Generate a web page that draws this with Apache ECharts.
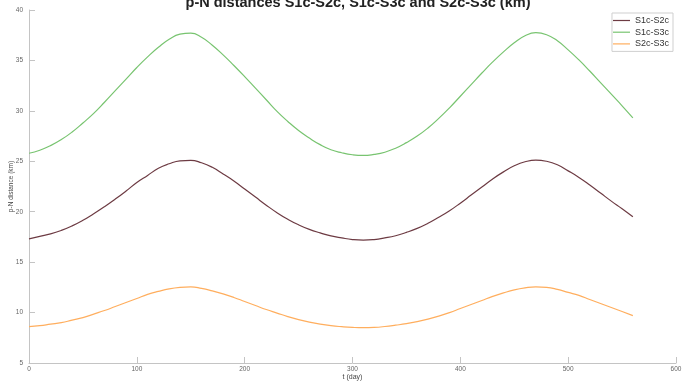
<!DOCTYPE html>
<html>
<head>
<meta charset="utf-8">
<script src="https://cdn.jsdelivr.net/npm/echarts@6/dist/echarts.min.js"></script>
<style>
  html, body { margin: 0; padding: 0; background: #fff; }
  #chart { width: 694px; height: 382px; }
</style>
</head>
<body>
<div id="chart"></div>
<script>
// Sample times (days), every 10 days
const tDays = [0, 10, 20, 30, 40, 50, 60, 70, 80, 90, 100, 110, 120, 130, 140, 150, 160, 170, 180, 190,
               200, 210, 220, 230, 240, 250, 260, 270, 280, 290, 300, 310, 320, 330, 340, 350, 360, 370, 380, 390,
               400, 410, 420, 430, 440, 450, 460, 470, 480, 490, 500, 510, 520, 530, 540, 550, 560];

// p-N distances (km)
const s1cS2c = [17.3, 17.55, 17.8, 18.15, 18.6, 19.15, 19.8, 20.5, 21.25, 22.05, 22.9, 23.6, 24.3, 24.75, 25.05, 25.1, 24.85, 24.4, 23.75, 23.05,
                22.25, 21.45, 20.65, 19.9, 19.25, 18.7, 18.25, 17.9, 17.6, 17.4, 17.24, 17.18, 17.24, 17.4, 17.62, 17.95, 18.35, 18.85, 19.45, 20.1,
                20.85, 21.65, 22.45, 23.25, 23.95, 24.55, 24.95, 25.12, 25.0, 24.65, 24.05, 23.4, 22.65, 21.85, 21.05, 20.3, 19.5];
const s1cS3c = [25.8, 26.1, 26.55, 27.15, 27.9, 28.8, 29.75, 30.85, 32.0, 33.15, 34.3, 35.35, 36.3, 37.1, 37.6, 37.7, 37.3, 36.5, 35.55, 34.5,
                33.4, 32.25, 31.1, 29.95, 28.95, 28.05, 27.3, 26.65, 26.15, 25.85, 25.65, 25.58, 25.68, 25.9, 26.3, 26.85, 27.5, 28.3, 29.25, 30.3,
                31.45, 32.6, 33.75, 34.85, 35.85, 36.75, 37.45, 37.75, 37.55, 36.95, 36.05, 35.05, 33.95, 32.8, 31.65, 30.5, 29.3];
const s2cS3c = [8.6, 8.7, 8.85, 9.0, 9.25, 9.5, 9.85, 10.2, 10.6, 11.0, 11.4, 11.8, 12.1, 12.35, 12.5, 12.55, 12.4, 12.15, 11.85, 11.5,
                11.1, 10.7, 10.3, 9.95, 9.6, 9.3, 9.05, 8.85, 8.7, 8.6, 8.53, 8.5, 8.53, 8.62, 8.75, 8.9, 9.1, 9.35, 9.65, 10.0,
                10.4, 10.8, 11.2, 11.6, 11.95, 12.25, 12.45, 12.55, 12.5, 12.3, 12.0, 11.7, 11.3, 10.9, 10.5, 10.1, 9.7];

const seriesNames = ['S1c-S2c', 'S1c-S3c', 'S2c-S3c'];
const seriesValues = [s1cS2c, s1cS3c, s2cS3c];
const seriesColors = ['#6d3b43', '#78c470', '#ffae5e'];

const xTicks = { min: 0, max: 600, interval: 100 };
const yTicks = { min: 5, max: 40, interval: 5 };

const font = 'Liberation Sans, Arial, sans-serif';
const axisGray = '#c4c4c4';
const labelGray = '#666';

const chart = echarts.init(document.getElementById('chart'), null, { renderer: 'canvas' });

chart.setOption({
  animation: false,
  backgroundColor: '#fff',
  title: {
    text: 'p-N distances S1c-S2c, S1c-S3c and S2c-S3c (km)',
    left: 353,
    textAlign: 'center',
    top: -10,
    textStyle: { fontFamily: font, fontSize: 14.5, fontWeight: 'bold', color: '#222' }
  },
  legend: {
    data: seriesNames,
    orient: 'vertical',
    right: 21,
    top: 13,
    icon: 'rect',
    itemWidth: 17,
    itemHeight: 1.2,
    itemGap: 0.7,
    padding: [2, 4, 2, 1],
    borderColor: '#cfcfcf',
    borderWidth: 1,
    textStyle: { fontFamily: font, fontSize: 9, lineHeight: 11, color: '#333' }
  },
  grid: {
    left: 29, right: 18, top: 10, bottom: 19,
    containLabel: false,
    outerBoundsMode: 'none'
  },
  xAxis: {
    type: 'value',
    min: xTicks.min, max: xTicks.max, interval: xTicks.interval,
    name: 't (day)',
    nameLocation: 'middle',
    nameMoveOverlap: false,
    nameGap: 11,
    nameTextStyle: { fontFamily: font, fontSize: 7, color: '#444' },
    axisLine: { show: true, lineStyle: { color: axisGray, width: 1 } },
    axisTick: { show: true, inside: true, length: 6, lineStyle: { color: axisGray } },
    axisLabel: { fontFamily: font, fontSize: 6.5, color: labelGray, margin: 3 },
    splitLine: { show: false }
  },
  yAxis: {
    type: 'value',
    min: yTicks.min, max: yTicks.max, interval: yTicks.interval,
    name: 'p-N distance (km)',
    nameLocation: 'middle',
    nameMoveOverlap: false,
    nameGap: 14,
    nameTextStyle: { fontFamily: font, fontSize: 6.5, color: '#444' },
    axisLine: { show: true, lineStyle: { color: axisGray, width: 1 } },
    axisTick: { show: true, inside: true, length: 6, lineStyle: { color: axisGray } },
    axisLabel: { fontFamily: font, fontSize: 6.5, color: labelGray, margin: 6 },
    splitLine: { show: false }
  },
  series: seriesNames.map((name, i) => ({
    name,
    type: 'line',
    data: tDays.map((t, k) => [t, seriesValues[i][k]]),
    smooth: 0.5,
    symbol: 'none',
    lineStyle: { color: seriesColors[i], width: 1.2 },
    itemStyle: { color: seriesColors[i] }
  }))
});
</script>
</body>
</html>
